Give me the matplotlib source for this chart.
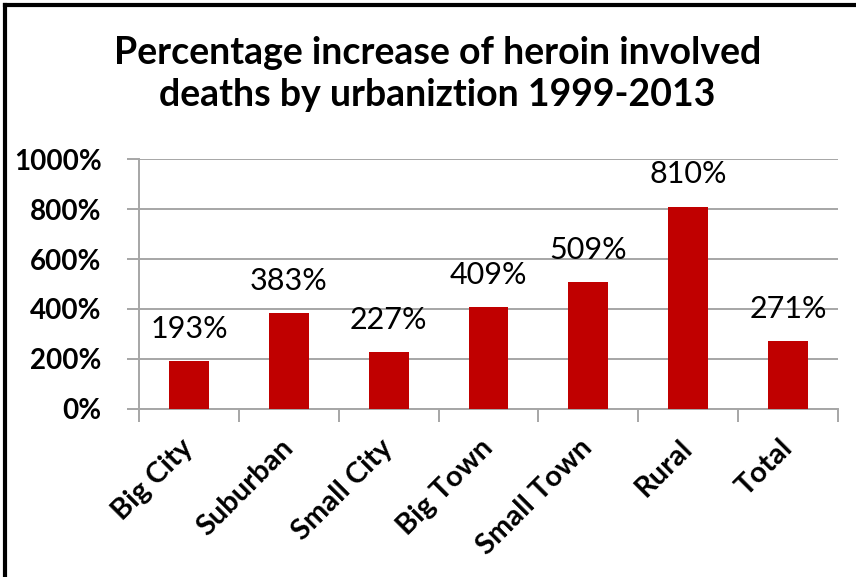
import matplotlib
matplotlib.use("Agg")
import matplotlib.pyplot as plt
from matplotlib.lines import Line2D
import numpy as np

categories = ["Big City", "Suburban", "Small City", "Big Town", "Small Town", "Rural", "Total"]
increase_pct = [193, 383, 227, 409, 509, 810, 271]
y_ticks = [0, 200, 400, 600, 800, 1000]

plt.rcParams['font.family'] = ['Lato', 'DejaVu Sans']

fig = plt.figure(figsize=(8.56, 5.77), dpi=100)
ax = fig.add_axes([0.1624, 0.2912, 0.8166, 0.4332])

x = np.arange(len(categories))
bars = ax.bar(x, increase_pct, width=0.4, color='#C00000', zorder=3)

for xi, v in zip(x, increase_pct):
    ax.annotate(f"{v}%", (xi, v), xytext=(0, 13), textcoords='offset points',
                ha='center', va='bottom', fontsize=22, color='black')

ax.set_xlim(-0.5, len(categories) - 0.5)
ax.set_ylim(0, 1000)
ax.set_yticks(y_ticks)
ax.set_yticklabels([f"{t}%" for t in y_ticks], fontsize=20, fontweight='bold')
ax.yaxis.grid(True, color='#A6A6A6', linewidth=1.4, zorder=0)

ax.set_xticks(x)
ax.set_xticklabels(categories, rotation=45, ha='right', va='center', rotation_mode='anchor',
                   fontsize=21, fontweight='bold')
ax.tick_params(axis='x', length=0, pad=25)
ax.set_xticks(np.arange(-0.5, len(categories)), minor=True)
ax.tick_params(axis='x', which='minor', length=9, width=1.4, color='#A6A6A6')
ax.tick_params(axis='y', length=9, width=1.4, color='#A6A6A6', pad=18)

for side in ['top', 'right']:
    ax.spines[side].set_visible(False)
for side in ['left', 'bottom']:
    ax.spines[side].set_color('#A6A6A6')
    ax.spines[side].set_linewidth(1.4)

fig.text(0.511, 0.872, "Percentage increase of heroin involved\ndeaths by urbaniztion 1999-2013",
         ha='center', va='center', fontsize=27, fontweight='bold', linespacing=1.3)

# outer frame (top and left edges)
fig.add_artist(Line2D([0.0055, 0.0055], [0, 0.991], transform=fig.transFigure, color='black', linewidth=3))
fig.add_artist(Line2D([0.0055, 1], [0.991, 0.991], transform=fig.transFigure, color='black', linewidth=3))

fig.savefig("out.png", dpi=100)
